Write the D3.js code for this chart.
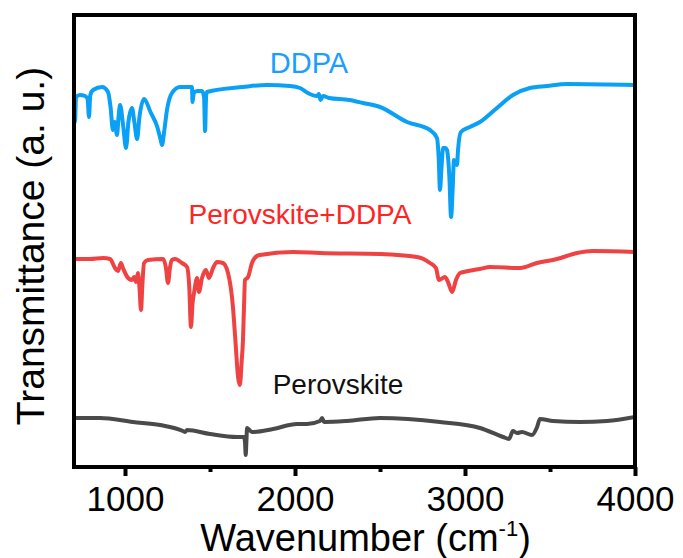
<!DOCTYPE html>
<html>
<head>
<meta charset="utf-8">
<script src="https://cdn.jsdelivr.net/npm/d3@7"></script>
<style>
  html, body { margin: 0; padding: 0; background: #fff; }
  svg { display: block; }
  text { font-family: Arial, "Liberation Sans", sans-serif; }
</style>
</head>
<body>
<svg id="chart" width="683" height="558"></svg>
<script>
// ---- Data (wavenumber in cm^-1, transmittance in arbitrary offset units) ----
const xTicks = [1000, 2000, 3000, 4000];
const xMinorTicks = [1500, 2500, 3500];

const ddpaWavenumber = [700, 706, 712, 735, 765, 780, 788, 796, 812, 865, 900, 915, 929, 940, 953, 962, 971, 990, 1006, 1020, 1041, 1055, 1071, 1085, 1112, 1150, 1190, 1210, 1218, 1230, 1247, 1276, 1324, 1394, 1397, 1405, 1424, 1453, 1465, 1471, 1477, 1482, 1694, 1835, 1971, 2029, 2076, 2129, 2140, 2150, 2165, 2200, 2320, 2400, 2500, 2659, 2794, 2835, 2845, 2853, 2862, 2871, 2885, 2894, 2908, 2918, 2928, 2935, 2945, 2953, 2959, 2976, 3029, 3088, 3188, 3282, 3382, 3482, 3600, 4000];
const ddpaValue = [378, 345, 370, 372, 371, 368, 350, 372, 377, 380, 375, 360, 337, 345, 332, 350, 362, 340, 319, 345, 359, 345, 328, 350, 368, 355, 340, 327, 322, 335, 357, 374, 380, 380, 365, 374, 376, 376, 370, 336, 370, 375, 380, 382, 381, 379, 374, 371, 373, 367, 371, 369, 367, 364, 360, 345, 337, 329, 310, 277, 300, 319, 319, 317, 290, 250, 280, 307, 304, 302, 317, 335, 340, 345, 359, 372, 379, 381, 383, 382];

const mixWavenumber = [700, 794, 871, 912, 941, 959, 976, 988, 1018, 1041, 1053, 1065, 1076, 1085, 1094, 1103, 1112, 1135, 1224, 1240, 1253, 1265, 1276, 1294, 1335, 1365, 1378, 1388, 1398, 1406, 1424, 1435, 1453, 1476, 1494, 1518, 1541, 1576, 1606, 1635, 1650, 1665, 1676, 1686, 1694, 1700, 1706, 1724, 1747, 1776, 1794, 1988, 2147, 2500, 2718, 2794, 2829, 2847, 2882, 2900, 2924, 2947, 2971, 3018, 3088, 3147, 3324, 3424, 3541, 3659, 3753, 4000];
const mixValue = [208, 208, 209, 208, 199, 196, 204, 199, 189, 187, 190, 185, 194, 180, 157, 185, 204, 207, 208, 200, 184, 200, 207, 208, 204, 200, 180, 140, 165, 174, 189, 175, 189, 197, 189, 199, 205, 204, 194, 160, 125, 90, 82, 105, 127, 160, 187, 190, 204, 211, 212, 215, 214, 213, 210, 204, 199, 187, 190, 185, 175, 187, 194, 196, 198, 200, 199, 204, 208, 214, 216, 215];

const perovWavenumber = [700, 853, 1047, 1206, 1341, 1353, 1365, 1500, 1659, 1700, 1706, 1710, 1714, 1718, 1747, 1871, 2012, 2071, 2147, 2159, 2171, 2306, 2500, 2853, 3088, 3224, 3259, 3282, 3306, 3335, 3394, 3424, 3441, 3518, 3676, 3835, 4000];
const perovValue = [49, 49, 45, 42, 36, 35, 37, 33, 30, 30, 25, 12, 25, 39, 35, 38, 43, 43, 46, 49, 45, 46, 49, 45, 39, 30, 28, 36, 34, 35, 32, 40, 48, 46, 45, 46, 50];

const seriesNames = ["DDPA", "Perovskite+DDPA", "Perovskite"];
const seriesLineColors = ["#0aa0f5", "#ef4242", "#4a4a4a"];
const seriesLabelColors = ["#1a9eff", "#ff2424", "#111111"];

// ---- Layout ----
const svg = d3.select("#chart");
const plot = { left: 74, right: 635, top: 15, bottom: 467 };

const x = d3.scaleLinear().domain([700, 4000]).range([plot.left, plot.right]);
const y = d3.scaleLinear().domain([0, 452]).range([plot.bottom, plot.top]);

const series = [
  { name: seriesNames[0], xs: ddpaWavenumber, ys: ddpaValue, color: seriesLineColors[0] },
  { name: seriesNames[1], xs: mixWavenumber, ys: mixValue, color: seriesLineColors[1] },
  { name: seriesNames[2], xs: perovWavenumber, ys: perovValue, color: seriesLineColors[2] }
];

const line = d3.line().x(d => x(d[0])).y(d => y(d[1])).curve(d3.curveMonotoneX);

svg.append("defs").append("clipPath").attr("id", "clip")
  .append("rect").attr("x", plot.left).attr("y", plot.top)
  .attr("width", plot.right - plot.left).attr("height", plot.bottom - plot.top);

const g = svg.append("g").attr("clip-path", "url(#clip)");
series.forEach(s => {
  g.append("path")
    .datum(s.xs.map((v, i) => [v, s.ys[i]]))
    .attr("d", line)
    .attr("fill", "none")
    .attr("stroke", s.color)
    .attr("stroke-width", 4)
    .attr("stroke-linejoin", "round")
    .attr("stroke-linecap", "round");
});

// ---- Axes ----
const xAxis = d3.axisBottom(x).tickValues(xTicks).tickSize(9).tickSizeOuter(0)
  .tickPadding(10).tickFormat(d3.format("d"));
const ax = svg.append("g").attr("transform", `translate(0,${plot.bottom})`).call(xAxis);
ax.select(".domain").remove();
ax.selectAll(".tick line").attr("stroke", "#000").attr("stroke-width", 4);
ax.selectAll(".tick text").attr("font-size", 35).attr("fill", "#000")
  .attr("font-family", "Arial, 'Liberation Sans', sans-serif");

const minorAxis = d3.axisBottom(x).tickValues(xMinorTicks).tickSize(5).tickFormat("");
const mx = svg.append("g").attr("transform", `translate(0,${plot.bottom})`).call(minorAxis);
mx.select(".domain").remove();
mx.selectAll(".tick line").attr("stroke", "#000").attr("stroke-width", 4);

// frame
svg.append("rect")
  .attr("x", plot.left).attr("y", plot.top)
  .attr("width", plot.right - plot.left).attr("height", plot.bottom - plot.top)
  .attr("fill", "none").attr("stroke", "#000").attr("stroke-width", 4);

// axis titles
const xt = svg.append("text")
  .attr("x", (plot.left + plot.right) / 2 + 11).attr("y", 551)
  .attr("text-anchor", "middle").attr("font-size", 38).attr("fill", "#000");
xt.append("tspan").text("Wavenumber (cm");
xt.append("tspan").text("-1").attr("font-size", 22).attr("dy", -15);
xt.append("tspan").text(")").attr("dy", 15);

svg.append("text")
  .attr("transform", "translate(44,246) rotate(-90)")
  .attr("text-anchor", "middle").attr("font-size", 39).attr("fill", "#000")
  .text("Transmittance (a. u.)");

// series labels
const labelPos = [[309, 73], [300, 224], [338, 394]];
const labelSizes = [29, 28, 28];
series.forEach((s, i) => {
  svg.append("text")
    .attr("x", labelPos[i][0]).attr("y", labelPos[i][1])
    .attr("text-anchor", "middle").attr("font-size", labelSizes[i])
    .attr("fill", seriesLabelColors[i])
    .text(s.name);
});
</script>
</body>
</html>
